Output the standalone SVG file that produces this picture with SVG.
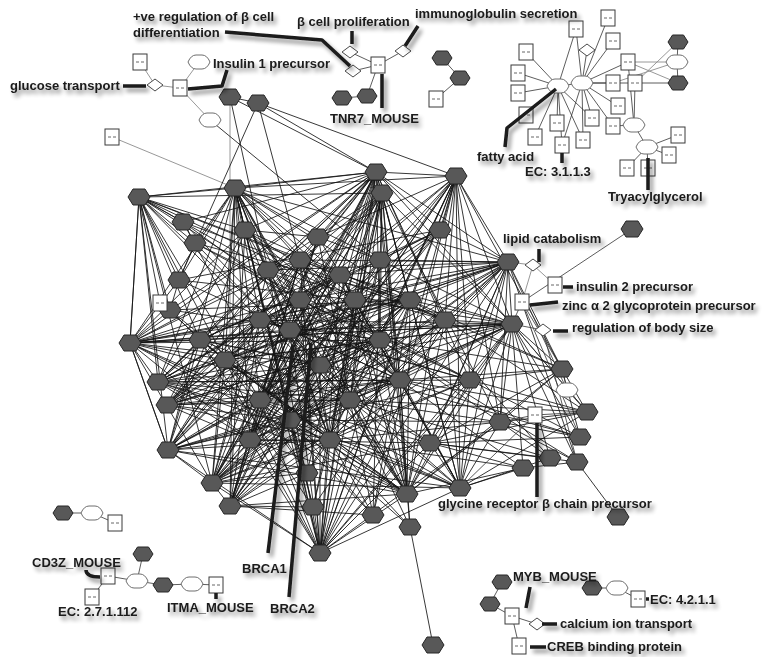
<svg xmlns="http://www.w3.org/2000/svg" xmlns:xlink="http://www.w3.org/1999/xlink" width="766" height="657" viewBox="0 0 766 657">
<defs>
<style>
.e{fill:none;stroke:#141414;stroke-width:.85}
.f{fill:none;stroke:#333;stroke-width:.8}
.g{fill:none;stroke:#8c8c8c;stroke-width:.9}
.hx{fill:#585858;stroke:#262626;stroke-width:1}
.bx{fill:#fff;stroke:#3a3a3a;stroke-width:1}
.ov{fill:#fff;stroke:#6e6e6e;stroke-width:1}
.dm{fill:#fff;stroke:#4a4a4a;stroke-width:1}
.lb{font-family:"Liberation Sans",Arial,sans-serif;font-weight:bold;font-size:13px;fill:#1a1a1a}
.ld{fill:none;stroke:#1a1a1a;stroke-width:3.5;stroke-linejoin:round;stroke-linecap:butt}
</style>
<filter id="sh" x="-10%" y="-40%" width="130%" height="200%">
<feGaussianBlur in="SourceAlpha" stdDeviation="2"/>
<feOffset dx="3" dy="4"/>
<feComponentTransfer><feFuncA type="linear" slope="0.45"/></feComponentTransfer>
<feMerge><feMergeNode/><feMergeNode in="SourceGraphic"/></feMerge>
</filter>
<path id="hex" d="M-11 0L-6 -8H6L11 0L6 8H-6Z"/>
<path id="shx" d="M-10 0L-5.5 -7H5.5L10 0L5.5 7H-5.5Z"/>
<path id="ovl" d="M-11 0Q-8 -7 -3 -7H3Q8 -7 11 0Q8 7 3 7H-3Q-8 7 -11 0Z"/>
<path id="dia" d="M-8 0L0 -6L8 0L0 6Z"/>
<g id="box"><rect x="-7" y="-8" width="14" height="16"/><path d="M-4 0h3M1 0h3" stroke="#666" stroke-width="1"/></g>
</defs>
<rect width="766" height="657" fill="#fff"/>

<!-- connectors -->
<g id="edges">
<path class="g" d="M230 97 230 340M112 137 235 188M508 262 533 265M533 265 555 285M533 265 522 302M180 88 210 120M140 62 155 85M155 85 180 88M180 88 199 62"/>
<path class="e" d="M230 97 268 270M230 97 376 172M258 103 179 280M258 103 376 172M258 103 456 176M258 103 300 260M210 120 380 260M258 103 230 97"/>
<!-- hub fans -->
<path class="e" d="M139 197 245 230M139 197 268 270M139 197 300 260M139 197 355 300M139 197 260 320M139 197 225 360M139 197 200 340M139 197 170 310M139 197 195 243M139 197 183 222M139 197 179 280M139 197 300 300M139 197 235 188M139 197 376 172M139 197 130 343M139 197 158 382M139 197 168 450M139 197 320 365M139 197 260 400M139 197 212 483M139 197 410 300"/>
<path class="e" d="M235 188 245 230M235 188 268 270M235 188 300 260M235 188 340 275M235 188 355 300M235 188 260 320M235 188 290 330M235 188 225 360M235 188 320 365M235 188 380 340M235 188 410 300M235 188 350 400M235 188 260 400M235 188 250 440M235 188 330 440M235 188 318 237M235 188 195 243M235 188 179 280M235 188 300 300M235 188 380 260M235 188 290 420M235 188 376 172M235 188 320 553M235 188 313 507M235 188 230 506M235 188 212 483M235 188 407 494M235 188 508 262M235 188 130 343M235 188 168 450"/>
<path class="e" d="M376 172 245 230M376 172 268 270M376 172 300 260M376 172 340 275M376 172 260 320M376 172 290 330M376 172 225 360M376 172 320 365M376 172 380 340M376 172 410 300M376 172 445 320M376 172 400 380M376 172 350 400M376 172 260 400M376 172 200 340M376 172 250 440M376 172 330 440M376 172 470 380M376 172 440 230M376 172 170 310M376 172 183 222M376 172 456 176M376 172 508 262M376 172 512 324M376 172 130 343M376 172 158 382M376 172 212 483M376 172 230 506M376 172 320 553M376 172 407 494M376 172 460 488M376 172 307 473"/>
<path class="e" d="M382 193 268 270M382 193 300 260M382 193 355 300M382 193 290 330M382 193 320 365M382 193 380 340M382 193 410 300M382 193 400 380M382 193 350 400M382 193 260 400M382 193 330 440M382 193 290 420M382 193 300 300M382 193 225 360M382 193 167 405M382 193 168 450M382 193 313 507M382 193 373 515M382 193 410 527M382 193 500 422M382 193 512 324M382 193 139 197"/>
<path class="e" d="M456 176 340 275M456 176 355 300M456 176 380 340M456 176 410 300M456 176 445 320M456 176 400 380M456 176 350 400M456 176 470 380M456 176 440 230M456 176 380 260M456 176 300 300M456 176 320 365M456 176 290 420M456 176 330 440M456 176 318 237M456 176 508 262M456 176 512 324M456 176 407 494M456 176 460 488M456 176 373 515M456 176 320 553M456 176 500 422M456 176 562 369M456 176 235 188"/>
<path class="e" d="M508 262 340 275M508 262 355 300M508 262 380 340M508 262 410 300M508 262 445 320M508 262 400 380M508 262 350 400M508 262 470 380M508 262 440 230M508 262 380 260M508 262 320 365M508 262 300 300M508 262 290 330M508 262 260 320M508 262 330 440M508 262 290 420M508 262 300 260M508 262 268 270M508 262 225 360M508 262 407 494M508 262 460 488M508 262 430 443M508 262 500 422M508 262 512 324M508 262 562 369M508 262 577 462M508 262 212 483"/>
<path class="e" d="M512 324 340 275M512 324 355 300M512 324 380 340M512 324 410 300M512 324 445 320M512 324 400 380M512 324 350 400M512 324 470 380M512 324 380 260M512 324 320 365M512 324 290 330M512 324 260 320M512 324 330 440M512 324 290 420M512 324 250 440M512 324 260 400M512 324 225 360M512 324 200 340M512 324 407 494M512 324 460 488M512 324 430 443M512 324 500 422M512 324 550 458M512 324 523 468M512 324 577 462M512 324 580 437M512 324 587 412M512 324 562 369M512 324 130 343"/>
<path class="e" d="M130 343 245 230M130 343 268 270M130 343 300 260M130 343 340 275M130 343 355 300M130 343 260 320M130 343 290 330M130 343 225 360M130 343 320 365M130 343 380 340M130 343 410 300M130 343 350 400M130 343 260 400M130 343 200 340M130 343 250 440M130 343 170 310M130 343 179 280M130 343 300 300M130 343 290 420M130 343 158 382M130 343 168 450M130 343 212 483M130 343 445 320M130 343 139 197"/>
<path class="e" d="M158 382 245 230M158 382 300 260M158 382 340 275M158 382 260 320M158 382 290 330M158 382 225 360M158 382 320 365M158 382 380 340M158 382 400 380M158 382 350 400M158 382 260 400M158 382 200 340M158 382 250 440M158 382 330 440M158 382 300 300M158 382 290 420M158 382 470 380M158 382 268 270M158 382 508 262M158 382 235 188"/>
<path class="e" d="M167 405 268 270M167 405 300 260M167 405 355 300M167 405 260 320M167 405 290 330M167 405 225 360M167 405 320 365M167 405 380 340M167 405 410 300M167 405 400 380M167 405 350 400M167 405 260 400M167 405 250 440M167 405 330 440M167 405 300 300M167 405 290 420M167 405 445 320M167 405 200 340M167 405 376 172"/>
<path class="e" d="M168 450 245 230M168 450 300 260M168 450 340 275M168 450 260 320M168 450 290 330M168 450 225 360M168 450 320 365M168 450 380 340M168 450 400 380M168 450 350 400M168 450 260 400M168 450 200 340M168 450 250 440M168 450 330 440M168 450 300 300M168 450 290 420M168 450 410 300M168 450 470 380M168 450 212 483M168 450 130 343"/>
<path class="e" d="M212 483 268 270M212 483 300 260M212 483 340 275M212 483 355 300M212 483 260 320M212 483 290 330M212 483 225 360M212 483 320 365M212 483 380 340M212 483 410 300M212 483 400 380M212 483 350 400M212 483 260 400M212 483 250 440M212 483 330 440M212 483 290 420M212 483 445 320M212 483 470 380M212 483 430 443M212 483 307 473M212 483 230 506M212 483 382 193"/>
<path class="e" d="M230 506 245 230M230 506 300 260M230 506 340 275M230 506 260 320M230 506 290 330M230 506 320 365M230 506 380 340M230 506 400 380M230 506 350 400M230 506 260 400M230 506 250 440M230 506 330 440M230 506 290 420M230 506 300 300M230 506 410 300M230 506 307 473M230 506 313 507M230 506 373 515M230 506 407 494M230 506 456 176"/>
<path class="e" d="M320 553 268 270M320 553 300 260M320 553 340 275M320 553 355 300M320 553 260 320M320 553 290 330M320 553 225 360M320 553 320 365M320 553 380 340M320 553 410 300M320 553 445 320M320 553 400 380M320 553 350 400M320 553 260 400M320 553 200 340M320 553 250 440M320 553 330 440M320 553 470 380M320 553 290 420M320 553 300 300M320 553 168 450M320 553 212 483M320 553 407 494M320 553 460 488M320 553 430 443M320 553 500 422M320 553 508 262M320 553 512 324"/>
<path class="e" d="M407 494 268 270M407 494 300 260M407 494 340 275M407 494 355 300M407 494 290 330M407 494 320 365M407 494 380 340M407 494 410 300M407 494 445 320M407 494 400 380M407 494 350 400M407 494 260 400M407 494 250 440M407 494 330 440M407 494 470 380M407 494 290 420M407 494 225 360M407 494 200 340M407 494 130 343M407 494 158 382M407 494 168 450M407 494 500 422M407 494 562 369"/>
<path class="e" d="M460 488 340 275M460 488 355 300M460 488 380 340M460 488 410 300M460 488 445 320M460 488 400 380M460 488 350 400M460 488 470 380M460 488 320 365M460 488 330 440M460 488 290 420M460 488 260 400M460 488 225 360M460 488 500 422M460 488 523 468M460 488 550 458M460 488 430 443M460 488 212 483M460 488 168 450M460 488 587 412"/>
<!-- right side and lower fans -->
<path class="e" d="M562 369 380 340M562 369 445 320M562 369 470 380M562 369 430 443M562 369 500 422M562 369 587 412M562 369 580 437M562 369 400 380M562 369 410 300M587 412 430 443M587 412 470 380M587 412 500 422M587 412 445 320M587 412 400 380M587 412 350 400M580 437 430 443M580 437 400 380M580 437 470 380M580 437 500 422M580 437 320 365M577 462 430 443M577 462 500 422M577 462 380 340M577 462 618 517M577 462 523 468M550 458 430 443M550 458 350 400M550 458 500 422M550 458 410 300M523 468 430 443M523 468 407 494M523 468 400 380M523 468 330 440M500 422 350 400M500 422 330 440M500 422 290 420M500 422 380 340M430 443 350 400M430 443 320 365M430 443 260 400M430 443 250 440"/>
<path class="e" d="M307 473 260 400M307 473 290 420M307 473 330 440M307 473 350 400M307 473 225 360M313 507 330 440M313 507 290 420M313 507 400 380M313 507 200 340M373 515 330 440M373 515 350 400M373 515 290 420M373 515 260 400M373 515 410 300M410 527 433 645M410 527 350 400M410 527 330 440M410 527 290 420M410 527 400 380"/>
<!-- inner mesh -->
<path class="e" d="M245 230 268 270M268 270 300 260M300 260 340 275M340 275 355 300M355 300 410 300M410 300 445 320M260 320 290 330M290 330 320 365M320 365 380 340M380 340 400 380M400 380 350 400M350 400 260 400M260 400 225 360M225 360 200 340M200 340 170 310M170 310 179 280M179 280 195 243M195 243 183 222M250 440 330 440M330 440 470 380M440 230 380 260M380 260 318 237M318 237 245 230M300 300 260 320M300 300 380 340M290 420 250 440M245 230 445 320M195 243 470 380M183 222 400 380M179 280 440 230M170 310 410 300M200 340 380 260M225 360 340 275M250 440 318 237M260 400 355 300M268 270 400 380M300 260 350 400M290 330 470 380M320 365 440 230M245 230 330 440M195 243 350 400M183 222 290 420M160 303 139 197M160 303 225 360"/>
<path class="e" d="M245 230 355 300M245 230 380 340M245 230 400 380M245 230 290 420M268 270 320 365M268 270 445 320M268 270 330 440M268 270 470 380M300 260 260 400M300 260 445 320M300 260 250 440M300 260 400 380M340 275 260 400M340 275 200 340M340 275 250 440M340 275 400 380M355 300 260 400M355 300 225 360M355 300 330 440M355 300 250 440M260 320 410 300M260 320 380 340M260 320 350 400M260 320 330 440M290 330 410 300M290 330 440 230M290 330 250 440M290 330 400 380M225 360 410 300M225 360 380 340M225 360 330 440M320 365 410 300M320 365 250 440M320 365 200 340M380 340 260 400M380 340 250 440M380 340 318 237M410 300 260 400M410 300 290 420M410 300 350 400M445 320 350 400M445 320 290 420M445 320 330 440M400 380 260 400M400 380 250 440M350 400 200 340M350 400 380 260M260 400 318 237M260 400 440 230M200 340 440 230M200 340 330 440M200 340 400 380M250 440 380 260M330 440 380 260M330 440 300 260M470 380 300 300M470 380 260 320M440 230 260 320M440 230 355 300M170 310 380 340M170 310 330 440M318 237 350 400M318 237 290 330M195 243 300 300M195 243 410 300M183 222 320 365M183 222 445 320M179 280 355 300M179 280 400 380M300 300 400 380M300 300 330 440M380 260 290 420M380 260 260 400M290 420 440 230M290 420 410 300"/>
<!-- right-middle annotations -->
<path class="f" d="M522 302 632 229M522 302 512 324M522 302 562 369M522 302 580 437M543 330 512 324M543 330 577 462M508 262 567 390M567 390 562 369M567 390 587 412M535 415 587 412M535 415 500 422M535 415 460 488M512 324 587 412"/>
<!-- small components -->
<path class="f" d="M378 65 350 52M378 65 353 71M378 65 403 51M378 65 367 96M342 98 367 96M442 58 460 78M460 78 436 99"/>
<path class="f" d="M558 86 526 52M558 86 518 73M558 86 518 93M558 86 526 115M558 86 535 137M558 86 557 123M558 86 562 145M558 86 583 140M558 86 576 29M558 86 592 118M558 86 582 83M582 83 576 29M582 83 608 18M582 83 613 41M582 83 592 118M582 83 613 126M582 83 618 106M582 83 613 83M582 83 635 83M582 83 628 62M582 83 562 145M582 83 583 140M582 83 587 50M635 83 678 83M678 42 677 62M677 62 678 83M635 83 634 125M628 62 634 125M634 125 647 147M613 126 634 125M647 147 678 135M647 147 669 155M647 147 627 168M647 147 648 168"/>
<path class="g" d="M628 62 677 62M628 62 678 83M635 83 678 42M613 83 677 62"/>
<path class="f" d="M63 513 92 513M92 513 115 523M143 554 137 581M108 576 137 581M137 581 163 585M163 585 192 584M192 584 216 585M108 576 92 597M502 582 490 604M490 604 512 616M512 616 537 624M512 616 519 646M592 588 617 588M617 588 638 599"/>
</g>

<!-- nodes: main cluster -->
<g class="hx">
<g id="m01"><use href="#hex" x="139" y="197"/></g>
<g id="m02"><use href="#hex" x="235" y="188"/></g>
<g id="m03"><use href="#hex" x="376" y="172"/></g>
<g id="m04"><use href="#hex" x="382" y="193"/></g>
<g id="m05"><use href="#hex" x="456" y="176"/></g>
<g id="m06"><use href="#hex" x="508" y="262"/></g>
<g id="m07"><use href="#hex" x="512" y="324"/></g>
<g id="m08"><use href="#hex" x="130" y="343"/></g>
<g id="m09"><use href="#hex" x="158" y="382"/></g>
<g id="m10"><use href="#hex" x="167" y="405"/></g>
<g id="m11"><use href="#hex" x="168" y="450"/></g>
<g id="m12"><use href="#hex" x="212" y="483"/></g>
<g id="m13"><use href="#hex" x="230" y="506"/></g>
<g id="m14"><use href="#hex" x="320" y="553"/></g>
<g id="m15"><use href="#hex" x="407" y="494"/></g>
<g id="m16"><use href="#hex" x="460" y="488"/></g>
<g id="m17"><use href="#hex" x="307" y="473"/></g>
<g id="m18"><use href="#hex" x="313" y="507"/></g>
<g id="m19"><use href="#hex" x="373" y="515"/></g>
<g id="m20"><use href="#hex" x="410" y="527"/></g>
<g id="m21"><use href="#hex" x="562" y="369"/></g>
<g id="m22"><use href="#hex" x="587" y="412"/></g>
<g id="m23"><use href="#hex" x="580" y="437"/></g>
<g id="m24"><use href="#hex" x="577" y="462"/></g>
<g id="m25"><use href="#hex" x="550" y="458"/></g>
<g id="m26"><use href="#hex" x="523" y="468"/></g>
<g id="m27"><use href="#hex" x="500" y="422"/></g>
<g id="m28"><use href="#hex" x="430" y="443"/></g>
<g id="m29"><use href="#hex" x="618" y="517"/></g>
<g id="m30"><use href="#hex" x="433" y="645"/></g>
<g id="m31"><use href="#hex" x="632" y="229"/></g>
<g id="m32"><use href="#hex" x="230" y="97"/></g>
<g id="m33"><use href="#hex" x="258" y="103"/></g>
<g id="m34"><use href="#hex" x="245" y="230"/></g>
<g id="m35"><use href="#hex" x="268" y="270"/></g>
<g id="m36"><use href="#hex" x="300" y="260"/></g>
<g id="m37"><use href="#hex" x="340" y="275"/></g>
<g id="m38"><use href="#hex" x="355" y="300"/></g>
<g id="m39"><use href="#hex" x="260" y="320"/></g>
<g id="m40"><use href="#hex" x="290" y="330"/></g>
<g id="m41"><use href="#hex" x="225" y="360"/></g>
<g id="m42"><use href="#hex" x="320" y="365"/></g>
<g id="m43"><use href="#hex" x="380" y="340"/></g>
<g id="m44"><use href="#hex" x="410" y="300"/></g>
<g id="m45"><use href="#hex" x="445" y="320"/></g>
<g id="m46"><use href="#hex" x="400" y="380"/></g>
<g id="m47"><use href="#hex" x="350" y="400"/></g>
<g id="m48"><use href="#hex" x="260" y="400"/></g>
<g id="m49"><use href="#hex" x="200" y="340"/></g>
<g id="m50"><use href="#hex" x="250" y="440"/></g>
<g id="m51"><use href="#hex" x="330" y="440"/></g>
<g id="m52"><use href="#hex" x="470" y="380"/></g>
<g id="m53"><use href="#hex" x="440" y="230"/></g>
<g id="m54"><use href="#hex" x="170" y="310"/></g>
<g id="m55"><use href="#hex" x="318" y="237"/></g>
<g id="m56"><use href="#hex" x="195" y="243"/></g>
<g id="m57"><use href="#hex" x="183" y="222"/></g>
<g id="m58"><use href="#hex" x="179" y="280"/></g>
<g id="m59"><use href="#hex" x="300" y="300"/></g>
<g id="m60"><use href="#hex" x="380" y="260"/></g>
<g id="m61"><use href="#hex" x="290" y="420"/></g>
<!-- small components -->
<g id="s01"><use href="#shx" x="342" y="98"/></g>
<g id="s02"><use href="#shx" x="367" y="96"/></g>
<g id="s03"><use href="#shx" x="442" y="58"/></g>
<g id="s04"><use href="#shx" x="460" y="78"/></g>
<g id="s05"><use href="#shx" x="678" y="42"/></g>
<g id="s06"><use href="#shx" x="678" y="83"/></g>
<g id="s07"><use href="#shx" x="63" y="513"/></g>
<g id="s08"><use href="#shx" x="143" y="554"/></g>
<g id="s09"><use href="#shx" x="163" y="585"/></g>
<g id="s10"><use href="#shx" x="502" y="582"/></g>
<g id="s11"><use href="#shx" x="490" y="604"/></g>
<g id="s12"><use href="#shx" x="592" y="588"/></g>
</g>

<g class="bx">
<g id="b01"><use href="#box" x="140" y="62"/></g>
<g id="b02"><use href="#box" x="180" y="88"/></g>
<g id="b03"><use href="#box" x="112" y="137"/></g>
<g id="b04"><use href="#box" x="378" y="65"/></g>
<g id="b05"><use href="#box" x="436" y="99"/></g>
<g id="b06"><use href="#box" x="576" y="29"/></g>
<g id="b07"><use href="#box" x="608" y="18"/></g>
<g id="b08"><use href="#box" x="613" y="41"/></g>
<g id="b09"><use href="#box" x="526" y="52"/></g>
<g id="b10"><use href="#box" x="518" y="73"/></g>
<g id="b11"><use href="#box" x="518" y="93"/></g>
<g id="b12"><use href="#box" x="526" y="115"/></g>
<g id="b13"><use href="#box" x="557" y="123"/></g>
<g id="b14"><use href="#box" x="535" y="137"/></g>
<g id="b15"><use href="#box" x="562" y="145"/></g>
<g id="b16"><use href="#box" x="583" y="140"/></g>
<g id="b17"><use href="#box" x="592" y="118"/></g>
<g id="b18"><use href="#box" x="613" y="126"/></g>
<g id="b19"><use href="#box" x="618" y="106"/></g>
<g id="b20"><use href="#box" x="613" y="83"/></g>
<g id="b21"><use href="#box" x="635" y="83"/></g>
<g id="b22"><use href="#box" x="628" y="62"/></g>
<g id="b23"><use href="#box" x="678" y="135"/></g>
<g id="b24"><use href="#box" x="669" y="155"/></g>
<g id="b25"><use href="#box" x="627" y="168"/></g>
<g id="b26"><use href="#box" x="648" y="168"/></g>
<g id="b27"><use href="#box" x="555" y="285"/></g>
<g id="b28"><use href="#box" x="522" y="302"/></g>
<g id="b29"><use href="#box" x="535" y="415"/></g>
<g id="b30"><use href="#box" x="160" y="303"/></g>
<g id="b31"><use href="#box" x="115" y="523"/></g>
<g id="b32"><use href="#box" x="108" y="576"/></g>
<g id="b33"><use href="#box" x="92" y="597"/></g>
<g id="b34"><use href="#box" x="216" y="585"/></g>
<g id="b35"><use href="#box" x="512" y="616"/></g>
<g id="b36"><use href="#box" x="519" y="646"/></g>
<g id="b37"><use href="#box" x="638" y="599"/></g>
</g>

<g class="ov">
<g id="o01"><use href="#ovl" x="199" y="62"/></g>
<g id="o02"><use href="#ovl" x="210" y="120"/></g>
<g id="o03"><use href="#ovl" x="558" y="86"/></g>
<g id="o04"><use href="#ovl" x="582" y="83"/></g>
<g id="o05"><use href="#ovl" x="677" y="62"/></g>
<g id="o06"><use href="#ovl" x="634" y="125"/></g>
<g id="o07"><use href="#ovl" x="647" y="147"/></g>
<g id="o08"><use href="#ovl" x="567" y="390"/></g>
<g id="o09"><use href="#ovl" x="92" y="513"/></g>
<g id="o10"><use href="#ovl" x="137" y="581"/></g>
<g id="o11"><use href="#ovl" x="192" y="584"/></g>
<g id="o12"><use href="#ovl" x="617" y="588"/></g>
</g>

<g class="dm">
<g id="d01"><use href="#dia" x="155" y="85"/></g>
<g id="d02"><use href="#dia" x="350" y="52"/></g>
<g id="d03"><use href="#dia" x="353" y="71"/></g>
<g id="d04"><use href="#dia" x="403" y="51"/></g>
<g id="d05"><use href="#dia" x="587" y="50"/></g>
<g id="d06"><use href="#dia" x="533" y="265"/></g>
<g id="d07"><use href="#dia" x="543" y="330"/></g>
<g id="d08"><use href="#dia" x="537" y="624"/></g>
</g>

<!-- labels with leader lines -->
<g id="labels" filter="url(#sh)">
<path class="ld" d="M225 32 322 40 350 66"/>
<path class="ld" d="M352 31V44"/>
<path class="ld" d="M418 26 405 46"/>
<path class="ld" d="M382 74V108"/>
<path class="ld" d="M123 86H146"/>
<path class="ld" d="M188 89 222 86 227 70"/>
<path class="ld" d="M505 147 507 128 556 89"/>
<path class="ld" d="M562 153V163"/>
<path class="ld" d="M648 158V190"/>
<path class="ld" d="M539 249V262"/>
<path class="ld" d="M563 287H573"/>
<path class="ld" d="M530 305 558 302"/>
<path class="ld" d="M553 331H568"/>
<path class="ld" d="M537 423V497"/>
<path class="ld" d="M293 345 268 553"/>
<path class="ld" d="M311 343 289 597"/>
<path class="ld" d="M86 570Q86 577 100 577"/>
<path class="ld" d="M216 593V599"/>
<path class="ld" d="M530 587 526 608"/>
<path class="ld" d="M542 624H557"/>
<path class="ld" d="M530 647H546"/>
<path class="ld" d="M646 599H649"/>
<text class="lb" x="133" y="21">+ve regulation of β cell</text>
<text class="lb" x="133" y="37">differentiation</text>
<text class="lb" x="297" y="26">β cell proliferation</text>
<text class="lb" x="415" y="18">immunoglobulin secretion</text>
<text class="lb" x="10" y="90">glucose transport</text>
<text class="lb" x="213" y="68">Insulin 1 precursor</text>
<text class="lb" x="330" y="123">TNR7_MOUSE</text>
<text class="lb" x="477" y="161">fatty acid</text>
<text class="lb" x="525" y="176">EC: 3.1.1.3</text>
<text class="lb" x="608" y="201">Tryacylglycerol</text>
<text class="lb" x="503" y="243">lipid catabolism</text>
<text class="lb" x="576" y="291">insulin 2 precursor</text>
<text class="lb" x="562" y="310">zinc α 2 glycoprotein precursor</text>
<text class="lb" x="572" y="332">regulation of body size</text>
<text class="lb" x="438" y="508">glycine receptor β chain precursor</text>
<text class="lb" x="32" y="567">CD3Z_MOUSE</text>
<text class="lb" x="58" y="616">EC: 2.7.1.112</text>
<text class="lb" x="167" y="612">ITMA_MOUSE</text>
<text class="lb" x="242" y="573">BRCA1</text>
<text class="lb" x="270" y="613">BRCA2</text>
<text class="lb" x="513" y="581">MYB_MOUSE</text>
<text class="lb" x="650" y="604">EC: 4.2.1.1</text>
<text class="lb" x="560" y="628">calcium ion transport</text>
<text class="lb" x="547" y="651">CREB binding protein</text>
</g>
</svg>
